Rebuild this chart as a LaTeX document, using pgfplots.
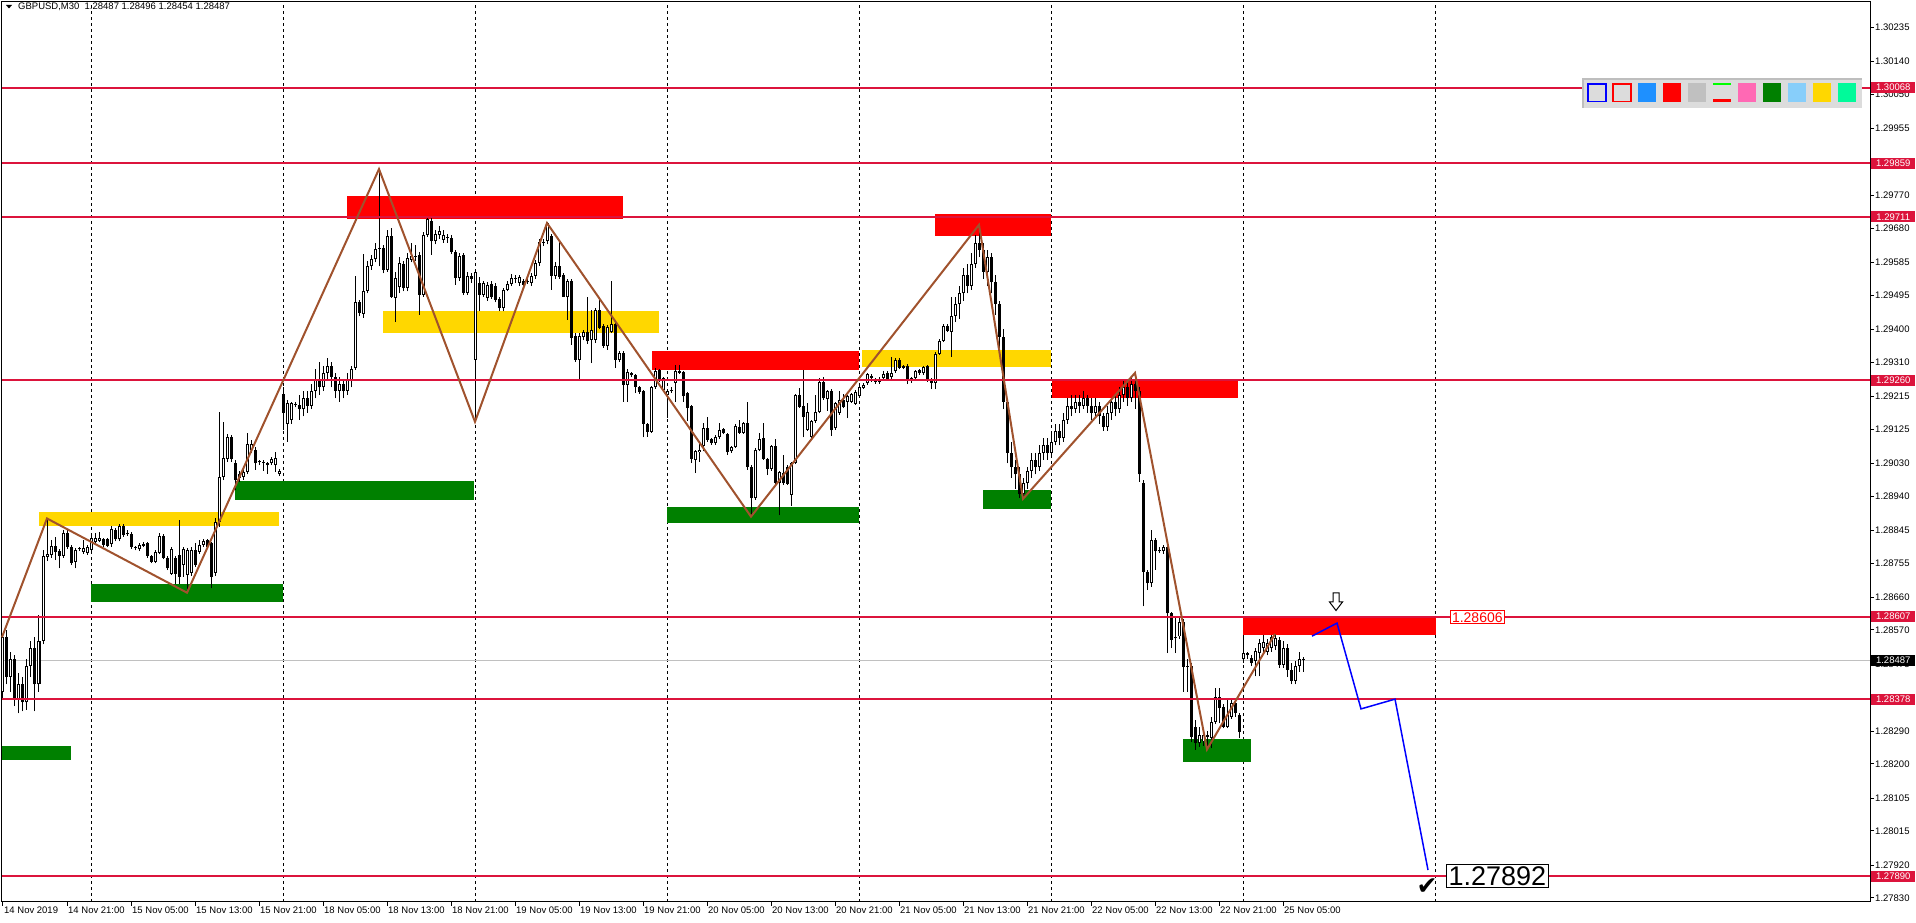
\documentclass[border=0pt]{standalone}
\usepackage{pgfplots}
\pgfplotsset{compat=1.18}
\usepackage{pgfplotstable}
\usepackage{fontspec}
\setmainfont{Liberation Sans}
\newfontfamily\dejavu{DejaVu Sans}
\definecolor{crim}{RGB}{220,20,60}
\definecolor{zz}{RGB}{160,82,45}
\definecolor{zgold}{RGB}{255,215,0}
\definecolor{zgreen}{RGB}{0,128,0}
\definecolor{zred}{RGB}{255,0,0}
\definecolor{bid}{RGB}{192,192,192}
\definecolor{tbbg}{RGB}{220,220,220}
\definecolor{tbbd}{RGB}{190,190,190}
\definecolor{dodger}{RGB}{30,144,255}
\definecolor{hotpink}{RGB}{255,105,180}
\definecolor{skyb}{RGB}{135,206,250}
\definecolor{spring}{RGB}{0,250,154}
\definecolor{lime}{RGB}{0,255,0}

% bar x (4 px per M30 bar), open, high, low, close
\pgfplotstableread{
x o h l c
3 1.28400 1.28560 1.28380 1.28550
7 1.28550 1.28570 1.28420 1.28440
11 1.28440 1.28510 1.28400 1.28490
15 1.28490 1.28500 1.28360 1.28380
19 1.28380 1.28450 1.28340 1.28420
23 1.28420 1.28440 1.28345 1.28370
27 1.28370 1.28490 1.28350 1.28470
31 1.28470 1.28540 1.28440 1.28520
35 1.28520 1.28550 1.28345 1.28420
39 1.28420 1.28611 1.28400 1.28540
43 1.28540 1.28790 1.28530 1.28774
47 1.28771 1.28878 1.28760 1.28780
51 1.28777 1.28818 1.28770 1.28803
55 1.28803 1.28828 1.28763 1.28786
59 1.28788 1.28795 1.28740 1.28775
63 1.28775 1.28845 1.28770 1.28837
67 1.28837 1.28845 1.28795 1.28800
71 1.28800 1.28805 1.28749 1.28756
75 1.28759 1.28797 1.28740 1.28791
79 1.28794 1.28800 1.28788 1.28793
83 1.28786 1.28818 1.28780 1.28797
87 1.28784 1.28806 1.28778 1.28800
91 1.28791 1.28830 1.28785 1.28823
95 1.28814 1.28837 1.28810 1.28823
99 1.28816 1.28841 1.28812 1.28823
103 1.28820 1.28825 1.28800 1.28805
107 1.28820 1.28825 1.28798 1.28803
111 1.28807 1.28858 1.28800 1.28849
115 1.28846 1.28852 1.28815 1.28820
119 1.28820 1.28862 1.28815 1.28858
123 1.28858 1.28862 1.28828 1.28832
127 1.28834 1.28845 1.28830 1.28836
131 1.28834 1.28840 1.28795 1.28800
135 1.28800 1.28803 1.28790 1.28797
139 1.28793 1.28810 1.28788 1.28806
143 1.28802 1.28812 1.28798 1.28807
147 1.28809 1.28812 1.28770 1.28775
151 1.28775 1.28778 1.28754 1.28759
155 1.28759 1.28791 1.28754 1.28786
159 1.28783 1.28837 1.28779 1.28829
163 1.28830 1.28835 1.28765 1.28770
167 1.28770 1.28775 1.28735 1.28740
171 1.28726 1.28800 1.28722 1.28793
175 1.28768 1.28775 1.28697 1.28726
179 1.28777 1.28873 1.28697 1.28717
183 1.28749 1.28800 1.28717 1.28793
187 1.28722 1.28797 1.28673 1.28791
191 1.28728 1.28800 1.28720 1.28791
195 1.28791 1.28809 1.28745 1.28749
199 1.28786 1.28818 1.28780 1.28806
203 1.28805 1.28820 1.28800 1.28816
207 1.28818 1.28822 1.28795 1.28800
211 1.28809 1.28812 1.28685 1.28717
215 1.28728 1.28878 1.28720 1.28869
219 1.28869 1.29173 1.28855 1.28993
223 1.28993 1.29145 1.28984 1.29044
227 1.29042 1.29110 1.29035 1.29102
231 1.29102 1.29108 1.29035 1.29041
235 1.29030 1.29040 1.28956 1.28984
239 1.28989 1.29010 1.28980 1.29002
243 1.28993 1.29015 1.28985 1.29007
247 1.29007 1.29113 1.29000 1.29085
251 1.29067 1.29095 1.29060 1.29085
255 1.29067 1.29075 1.29012 1.29030
259 1.29035 1.29040 1.29025 1.29033
263 1.29033 1.29040 1.29010 1.29032
267 1.29032 1.29035 1.29002 1.29025
271 1.29030 1.29048 1.29025 1.29042
275 1.29025 1.29062 1.29007 1.29044
279 1.29001 1.29015 1.28995 1.29010
283 1.29223 1.29240 1.29122 1.29170
287 1.29140 1.29205 1.29090 1.29196
291 1.29150 1.29200 1.29140 1.29196
295 1.29194 1.29200 1.29185 1.29192
299 1.29192 1.29220 1.29150 1.29180
303 1.29180 1.29230 1.29160 1.29210
307 1.29210 1.29230 1.29170 1.29190
311 1.29190 1.29250 1.29180 1.29230
315 1.29230 1.29290 1.29210 1.29260
319 1.29260 1.29310 1.29220 1.29240
323 1.29240 1.29300 1.29230 1.29280
327 1.29280 1.29320 1.29260 1.29300
331 1.29300 1.29310 1.29240 1.29270
335 1.29270 1.29280 1.29210 1.29230
339 1.29230 1.29270 1.29200 1.29250
343 1.29250 1.29260 1.29210 1.29230
347 1.29230 1.29280 1.29220 1.29260
351 1.29260 1.29300 1.29240 1.29290
355 1.29293 1.29547 1.29289 1.29476
359 1.29476 1.29482 1.29436 1.29445
363 1.29443 1.29608 1.29432 1.29507
367 1.29507 1.29590 1.29500 1.29574
371 1.29574 1.29606 1.29565 1.29594
375 1.29594 1.29640 1.29585 1.29622
379 1.29622 1.29843 1.29574 1.29625
383 1.29625 1.29632 1.29555 1.29565
387 1.29565 1.29675 1.29560 1.29659
391 1.29659 1.29680 1.29487 1.29489
395 1.29487 1.29560 1.29420 1.29542
399 1.29516 1.29600 1.29500 1.29583
403 1.29581 1.29590 1.29505 1.29514
407 1.29514 1.29610 1.29505 1.29597
411 1.29593 1.29639 1.29585 1.29602
415 1.29602 1.29634 1.29590 1.29600
419 1.29606 1.29615 1.29441 1.29496
423 1.29496 1.29670 1.29490 1.29662
427 1.29662 1.29708 1.29655 1.29706
431 1.29700 1.29708 1.29606 1.29643
435 1.29643 1.29675 1.29635 1.29664
439 1.29661 1.29685 1.29650 1.29672
443 1.29648 1.29675 1.29640 1.29661
447 1.29652 1.29665 1.29640 1.29652
451 1.29652 1.29660 1.29608 1.29615
455 1.29615 1.29620 1.29523 1.29542
459 1.29542 1.29612 1.29535 1.29603
463 1.29606 1.29612 1.29495 1.29502
467 1.29502 1.29560 1.29495 1.29548
471 1.29548 1.29556 1.29528 1.29540
475 1.29317 1.29565 1.29145 1.29560
479 1.29528 1.29545 1.29450 1.29496
483 1.29496 1.29535 1.29490 1.29528
487 1.29487 1.29530 1.29480 1.29524
491 1.29525 1.29535 1.29485 1.29491
495 1.29520 1.29528 1.29475 1.29482
499 1.29484 1.29490 1.29450 1.29459
503 1.29459 1.29515 1.29450 1.29510
507 1.29510 1.29535 1.29505 1.29526
511 1.29526 1.29554 1.29520 1.29542
515 1.29542 1.29550 1.29528 1.29540
519 1.29528 1.29551 1.29520 1.29545
523 1.29533 1.29540 1.29518 1.29524
527 1.29532 1.29540 1.29525 1.29532
531 1.29528 1.29555 1.29520 1.29548
535 1.29548 1.29592 1.29540 1.29583
539 1.29583 1.29650 1.29575 1.29641
543 1.29641 1.29650 1.29630 1.29640
547 1.29643 1.29696 1.29635 1.29694
551 1.29659 1.29665 1.29510 1.29548
555 1.29548 1.29585 1.29540 1.29576
559 1.29576 1.29643 1.29540 1.29546
563 1.29551 1.29555 1.29489 1.29491
567 1.29489 1.29540 1.29427 1.29534
571 1.29534 1.29540 1.29358 1.29376
575 1.29382 1.29390 1.29310 1.29316
579 1.29316 1.29390 1.29264 1.29381
583 1.29378 1.29398 1.29370 1.29392
587 1.29392 1.29491 1.29360 1.29367
591 1.29371 1.29454 1.29307 1.29399
595 1.29371 1.29460 1.29362 1.29454
599 1.29454 1.29486 1.29400 1.29405
603 1.29410 1.29415 1.29350 1.29355
607 1.29353 1.29412 1.29344 1.29408
611 1.29394 1.29535 1.29390 1.29416
615 1.29416 1.29420 1.29293 1.29316
619 1.29316 1.29340 1.29310 1.29335
623 1.29335 1.29340 1.29201 1.29247
627 1.29247 1.29290 1.29201 1.29283
631 1.29279 1.29283 1.29268 1.29273
635 1.29273 1.29276 1.29224 1.29241
639 1.29241 1.29245 1.29222 1.29227
643 1.29229 1.29232 1.29102 1.29139
647 1.29139 1.29142 1.29104 1.29118
651 1.29118 1.29245 1.29115 1.29241
655 1.29240 1.29293 1.29236 1.29284
659 1.29288 1.29292 1.29255 1.29261
663 1.29233 1.29270 1.29228 1.29265
667 1.29219 1.29235 1.29155 1.29229
671 1.29229 1.29240 1.29225 1.29233
675 1.29252 1.29302 1.29201 1.29286
679 1.29286 1.29302 1.29278 1.29281
683 1.29282 1.29286 1.29201 1.29215
687 1.29224 1.29228 1.29148 1.29183
691 1.29189 1.29192 1.29031 1.29042
695 1.29040 1.29068 1.29003 1.29063
699 1.29061 1.29086 1.29035 1.29068
703 1.29079 1.29141 1.29063 1.29129
707 1.29129 1.29158 1.29090 1.29095
711 1.29097 1.29100 1.29082 1.29086
715 1.29086 1.29108 1.29082 1.29104
719 1.29102 1.29143 1.29098 1.29121
723 1.29125 1.29128 1.29110 1.29113
727 1.29111 1.29115 1.29054 1.29061
731 1.29063 1.29078 1.29060 1.29075
735 1.29075 1.29138 1.29072 1.29134
739 1.29132 1.29150 1.29112 1.29115
743 1.29115 1.29145 1.29112 1.29141
747 1.29141 1.29199 1.29012 1.29020
751 1.29021 1.29025 1.28883 1.28934
755 1.28934 1.29072 1.28930 1.29068
759 1.29066 1.29113 1.29063 1.29097
763 1.29100 1.29141 1.29040 1.29042
767 1.29042 1.29045 1.28998 1.29014
771 1.29014 1.29080 1.29010 1.29077
775 1.29077 1.29097 1.28972 1.28977
779 1.28977 1.29010 1.28887 1.29005
783 1.29003 1.29054 1.28970 1.28975
787 1.29021 1.29025 1.28970 1.28974
791 1.28943 1.29035 1.28913 1.29031
795 1.29031 1.29222 1.29028 1.29219
799 1.29219 1.29238 1.29183 1.29187
803 1.29190 1.29288 1.29102 1.29158
807 1.29123 1.29196 1.29120 1.29173
811 1.29104 1.29150 1.29100 1.29148
815 1.29146 1.29219 1.29143 1.29171
819 1.29171 1.29265 1.29168 1.29256
823 1.29256 1.29270 1.29206 1.29210
827 1.29208 1.29233 1.29176 1.29229
831 1.29231 1.29235 1.29106 1.29121
835 1.29127 1.29200 1.29123 1.29196
839 1.29169 1.29231 1.29165 1.29206
843 1.29206 1.29221 1.29182 1.29185
847 1.29201 1.29220 1.29155 1.29215
851 1.29201 1.29225 1.29198 1.29221
855 1.29195 1.29233 1.29192 1.29227
859 1.29215 1.29246 1.29212 1.29242
863 1.29238 1.29251 1.29235 1.29247
867 1.29252 1.29280 1.29248 1.29276
871 1.29272 1.29276 1.29255 1.29265
875 1.29261 1.29265 1.29250 1.29256
879 1.29256 1.29270 1.29250 1.29264
883 1.29265 1.29285 1.29262 1.29277
887 1.29281 1.29285 1.29260 1.29264
891 1.29268 1.29325 1.29264 1.29281
895 1.29284 1.29320 1.29280 1.29316
899 1.29316 1.29320 1.29290 1.29293
903 1.29298 1.29302 1.29290 1.29293
907 1.29300 1.29304 1.29249 1.29264
911 1.29261 1.29268 1.29253 1.29265
915 1.29265 1.29288 1.29262 1.29284
919 1.29288 1.29292 1.29275 1.29279
923 1.29279 1.29300 1.29275 1.29296
927 1.29298 1.29302 1.29256 1.29261
931 1.29261 1.29265 1.29235 1.29253
935 1.29253 1.29337 1.29235 1.29333
939 1.29333 1.29373 1.29330 1.29369
943 1.29369 1.29414 1.29365 1.29410
947 1.29410 1.29414 1.29393 1.29397
951 1.29394 1.29489 1.29325 1.29438
955 1.29438 1.29490 1.29420 1.29470
959 1.29470 1.29520 1.29430 1.29500
963 1.29500 1.29570 1.29480 1.29550
967 1.29550 1.29580 1.29500 1.29520
971 1.29520 1.29610 1.29510 1.29580
975 1.29580 1.29660 1.29570 1.29640
979 1.29640 1.29689 1.29600 1.29620
983 1.29620 1.29640 1.29540 1.29560
987 1.29560 1.29620 1.29520 1.29600
991 1.29600 1.29610 1.29500 1.29530
995 1.29530 1.29550 1.29440 1.29470
999 1.29470 1.29480 1.29350 1.29380
1003 1.29380 1.29400 1.29180 1.29200
1007 1.29200 1.29210 1.29030 1.29060
1011 1.29060 1.29090 1.28990 1.29020
1015 1.29020 1.29040 1.28960 1.29000
1019 1.29000 1.29020 1.28935 1.28945
1023 1.28945 1.28990 1.28932 1.28975
1027 1.28975 1.29020 1.28960 1.29010
1031 1.29010 1.29060 1.28990 1.29040
1035 1.29040 1.29060 1.29000 1.29020
1039 1.29020 1.29080 1.29010 1.29060
1043 1.29060 1.29100 1.29040 1.29080
1047 1.29080 1.29100 1.29040 1.29060
1051 1.29060 1.29110 1.29050 1.29090
1055 1.29090 1.29140 1.29080 1.29120
1059 1.29120 1.29140 1.29080 1.29100
1063 1.29100 1.29170 1.29090 1.29150
1067 1.29150 1.29210 1.29140 1.29190
1071 1.29190 1.29220 1.29160 1.29180
1075 1.29180 1.29220 1.29170 1.29200
1079 1.29200 1.29220 1.29170 1.29190
1083 1.29190 1.29230 1.29180 1.29210
1087 1.29210 1.29220 1.29170 1.29190
1091 1.29190 1.29210 1.29150 1.29170
1095 1.29170 1.29210 1.29160 1.29190
1099 1.29190 1.29200 1.29140 1.29160
1103 1.29160 1.29170 1.29120 1.29130
1107 1.29130 1.29190 1.29120 1.29170
1111 1.29170 1.29210 1.29150 1.29200
1115 1.29200 1.29220 1.29160 1.29180
1119 1.29180 1.29240 1.29170 1.29220
1123 1.29220 1.29260 1.29200 1.29240
1127 1.29240 1.29260 1.29190 1.29210
1131 1.29210 1.29270 1.29200 1.29250
1135 1.29250 1.29280 1.29180 1.29230
1139 1.29230 1.29240 1.28980 1.29000
1143 1.28975 1.28985 1.28635 1.28731
1147 1.28731 1.28735 1.28680 1.28699
1151 1.28699 1.28846 1.28690 1.28819
1155 1.28819 1.28825 1.28736 1.28787
1159 1.28787 1.28800 1.28782 1.28791
1163 1.28787 1.28806 1.28780 1.28800
1167 1.28800 1.28806 1.28506 1.28616
1171 1.28616 1.28620 1.28520 1.28543
1175 1.28550 1.28607 1.28506 1.28547
1179 1.28552 1.28607 1.28545 1.28593
1183 1.28593 1.28600 1.28400 1.28469
1187 1.28469 1.28490 1.28400 1.28470
1191 1.28470 1.28480 1.28260 1.28275
1195 1.28303 1.28320 1.28239 1.28257
1199 1.28257 1.28303 1.28248 1.28280
1203 1.28262 1.28290 1.28250 1.28280
1207 1.28275 1.28290 1.28240 1.28280
1211 1.28271 1.28330 1.28243 1.28317
1215 1.28317 1.28409 1.28310 1.28386
1219 1.28386 1.28409 1.28312 1.28354
1223 1.28358 1.28365 1.28298 1.28303
1227 1.28303 1.28377 1.28298 1.28335
1231 1.28331 1.28377 1.28325 1.28367
1235 1.28367 1.28372 1.28330 1.28340
1239 1.28335 1.28340 1.28271 1.28289
1243 1.28489 1.28547 1.28480 1.28506
1247 1.28506 1.28510 1.28490 1.28500
1251 1.28492 1.28500 1.28470 1.28478
1255 1.28483 1.28520 1.28442 1.28511
1259 1.28506 1.28545 1.28442 1.28534
1263 1.28520 1.28555 1.28510 1.28538
1267 1.28510 1.28545 1.28500 1.28534
1271 1.28520 1.28555 1.28510 1.28550
1275 1.28525 1.28559 1.28515 1.28547
1279 1.28543 1.28550 1.28465 1.28474
1283 1.28474 1.28540 1.28465 1.28520
1287 1.28520 1.28530 1.28440 1.28460
1291 1.28460 1.28480 1.28420 1.28430
1295 1.28430 1.28485 1.28420 1.28470
1299 1.28470 1.28510 1.28455 1.28490
1303 1.28487 1.28496 1.28454 1.28487
}\candles

\newcommand\zone[5]{\addplot[fill=#5, draw=none, forget plot] coordinates {(#1,#3) (#2,#3) (#2,#4) (#1,#4)} -- cycle;}
\newcommand\level[1]{\addplot[crim, line width=2pt, forget plot] coordinates {(2,#1) (1870,#1)};}
\pgfplotsset{candle/.style 2 args={draw=none, mark=none, forget plot,
  error bars/.cd, y dir=plus, y explicit, error mark=none,
  error bar style={draw=#1, solid, line width=#2}}}

\begin{document}
\begin{tikzpicture}[x=1pt,y=1pt]
\useasboundingbox (0,0) rectangle (1916,923);
\begin{axis}[
    at={(2pt,21pt)}, anchor=south west,
    scale only axis, width=1868pt, height=900pt,
    xmin=2, xmax=1870, ymin=1.278187, ymax=1.303045,
    clip=false,
    axis line style={black, line width=1pt},
    tick style={black, line width=1pt},
    tick align=outside, major tick length=4pt,
    xtick pos=bottom, ytick pos=right, yticklabel pos=right,
    scaled y ticks=false,
    ticklabel style={font=\fontsize{9.5}{11}\selectfont, text=black},
    xticklabel style={anchor=north west, inner sep=1pt},
    yticklabel style={anchor=west, inner sep=1pt},
    xtick={3,67,131,195,259,323,387,451,515,579,643,707,771,835,899,963,1027,1091,1155,1219,1283},
    xticklabels={14 Nov 2019,14 Nov 21:00,15 Nov 05:00,15 Nov 13:00,15 Nov 21:00,18 Nov 05:00,18 Nov 13:00,18 Nov 21:00,19 Nov 05:00,19 Nov 13:00,19 Nov 21:00,20 Nov 05:00,20 Nov 13:00,20 Nov 21:00,21 Nov 05:00,21 Nov 13:00,21 Nov 21:00,22 Nov 05:00,22 Nov 13:00,22 Nov 21:00,25 Nov 05:00},
    ytick={1.27830,1.27920,1.28015,1.28105,1.28200,1.28290,1.28475,1.28570,1.28660,1.28755,1.28845,1.28940,1.29030,1.29125,1.29215,1.29310,1.29400,1.29495,1.29585,1.29680,1.29770,1.29955,1.30050,1.30140,1.30235},
    yticklabels={1.27830,1.27920,1.28015,1.28105,1.28200,1.28290,1.28475,1.28570,1.28660,1.28755,1.28845,1.28940,1.29030,1.29125,1.29215,1.29310,1.29400,1.29495,1.29585,1.29680,1.29770,1.29955,1.30050,1.30140,1.30235},
    extra x ticks={91,283,475,667,859,1051,1243,1435},
    extra x tick labels={},
    extra x tick style={grid=major, major tick length=0pt,
      major grid style={black, line width=1pt, dash pattern=on 3pt off 3pt}},
  ]
% zones
\zone{347}{623}{1.29706}{1.29769}{zred}
\zone{935}{1051}{1.29658}{1.29719}{zred}
\zone{652}{859}{1.29287}{1.29341}{zred}
\zone{862}{1051}{1.29297}{1.29344}{zgold}
\zone{1052}{1238}{1.29212}{1.29263}{zred}
\zone{383}{659}{1.29389}{1.29451}{zgold}
\zone{39}{279}{1.28856}{1.28896}{zgold}
\zone{91}{283}{1.28648}{1.28697}{zgreen}
\zone{235}{474}{1.28930}{1.28982}{zgreen}
\zone{667}{859}{1.28865}{1.28909}{zgreen}
\zone{983}{1051}{1.28905}{1.28957}{zgreen}
\zone{2}{71}{1.28211}{1.28250}{zgreen}
\zone{1183}{1251}{1.28204}{1.28269}{zgreen}
\zone{1243}{1436}{1.28555}{1.28607}{zred}
% bid line
\addplot[bid, line width=1pt, forget plot] coordinates {(2,1.28487) (1870,1.28487)};
% candles: wicks, bodies, hollow bull interiors
\addplot[candle={black}{1pt}]
  table[x=x, y=l, y error expr={\thisrow{h}-\thisrow{l}}] {\candles};
\addplot[candle={black}{3pt}]
  table[x=x, y expr={min(\thisrow{o},\thisrow{c})}, y error expr={max(abs(\thisrow{c}-\thisrow{o}),0.0000276)}] {\candles};
\addplot[candle={white}{1pt}]
  table[x=x, y expr={\thisrow{o}+0.0000276}, y error expr={max(\thisrow{c}-\thisrow{o}-0.0000552,0)}] {\candles};
% levels
\level{1.30068}
\level{1.29859}
\level{1.29711}
\level{1.29260}
\level{1.28607}
\level{1.28378}
\level{1.27890}
% zigzag
\addplot[zz, line width=2pt, forget plot] coordinates {
 (2,1.28550) (47,1.28878) (187,1.28673) (379,1.29843) (475,1.29145) (547,1.29694)
 (751,1.28883) (979,1.29689) (1023,1.28932) (1135,1.29280) (1207,1.28240) (1275,1.28559)};
% forecast path
\addplot[blue, line width=1.5pt, forget plot] coordinates {
 (1312,1.28553) (1337,1.28589) (1361,1.28352) (1395,1.28379) (1428,1.27907)};
% text objects
\node[draw=zred, fill=white, text=zred, line width=1pt, inner sep=1.5pt, anchor=west,
  font=\fontsize{14}{14}\selectfont] at (axis cs:1450,1.28605) {1.28606};
\node[draw=black, fill=white, text=black, line width=1pt, inner sep=2pt, anchor=west,
  font=\fontsize{27}{27}\selectfont] at (axis cs:1446,1.27891) {1.27892};
\node[font=\dejavu\fontsize{25}{25}\selectfont, inner sep=0pt] at (axis cs:1427,1.27862) {✔};
% anchors for the price labels
\coordinate (L1) at (axis cs:1871,1.30068);
\coordinate (L2) at (axis cs:1871,1.29859);
\coordinate (L3) at (axis cs:1871,1.29711);
\coordinate (L4) at (axis cs:1871,1.29260);
\coordinate (L5) at (axis cs:1871,1.28607);
\coordinate (L6) at (axis cs:1871,1.28487);
\coordinate (L7) at (axis cs:1871,1.28378);
\coordinate (L8) at (axis cs:1871,1.27890);
\end{axis}
% price labels on the scale
\tikzset{plab/.style={anchor=west, inner xsep=0pt, inner ysep=0pt, minimum width=44pt,
  minimum height=11pt, text=white, font=\fontsize{9.5}{11}\selectfont}}
\node[plab, fill=crim] at (L1) {1.30068};
\node[plab, fill=crim] at (L2) {1.29859};
\node[plab, fill=crim] at (L3) {1.29711};
\node[plab, fill=crim] at (L4) {1.29260};
\node[plab, fill=crim] at (L5) {1.28607};
\node[plab, fill=black] at (L6) {1.28487};
\node[plab, fill=crim] at (L7) {1.28378};
\node[plab, fill=crim] at (L8) {1.27890};
% title
\fill[black] (6,918) -- (12,918) -- (9,914.5) -- cycle;
\node[anchor=west, inner sep=0pt, font=\fontsize{9.5}{11}\selectfont] at (18,916)
  {GBPUSD,M30\ \ 1.28487 1.28496 1.28454 1.28487};
% hollow down arrow
\draw[black, fill=white, line width=1pt] (1333,330) -- (1339,330) -- (1339,321) -- (1342.5,321)
  -- (1336,312.5) -- (1329.5,321) -- (1333,321) -- cycle;
% object toolbar
\fill[tbbg] (1582,815) rectangle (1862,845);
\draw[tbbd, line width=2pt] (1583,815) -- (1583,844) -- (1862,844);
\draw[blue, line width=1.5pt] (1588,821.5) rectangle (1606,839);
\draw[zred, line width=1.5pt] (1613,821.5) rectangle (1631,839);
\fill[dodger] (1638,821) rectangle (1656,839.5);
\fill[zred] (1663,821) rectangle (1681,839.5);
\fill[bid] (1688,821) rectangle (1706,839.5);
\fill[lime] (1713,838) rectangle (1731,839.5);
\fill[zred] (1713,820.5) rectangle (1731,824);
\fill[hotpink] (1738,821) rectangle (1756,839.5);
\fill[zgreen] (1763,821) rectangle (1781,839.5);
\fill[skyb] (1788,821) rectangle (1806,839.5);
\fill[zgold] (1813,821) rectangle (1831,839.5);
\fill[spring] (1838,821) rectangle (1856,839.5);
\end{tikzpicture}
\end{document}
